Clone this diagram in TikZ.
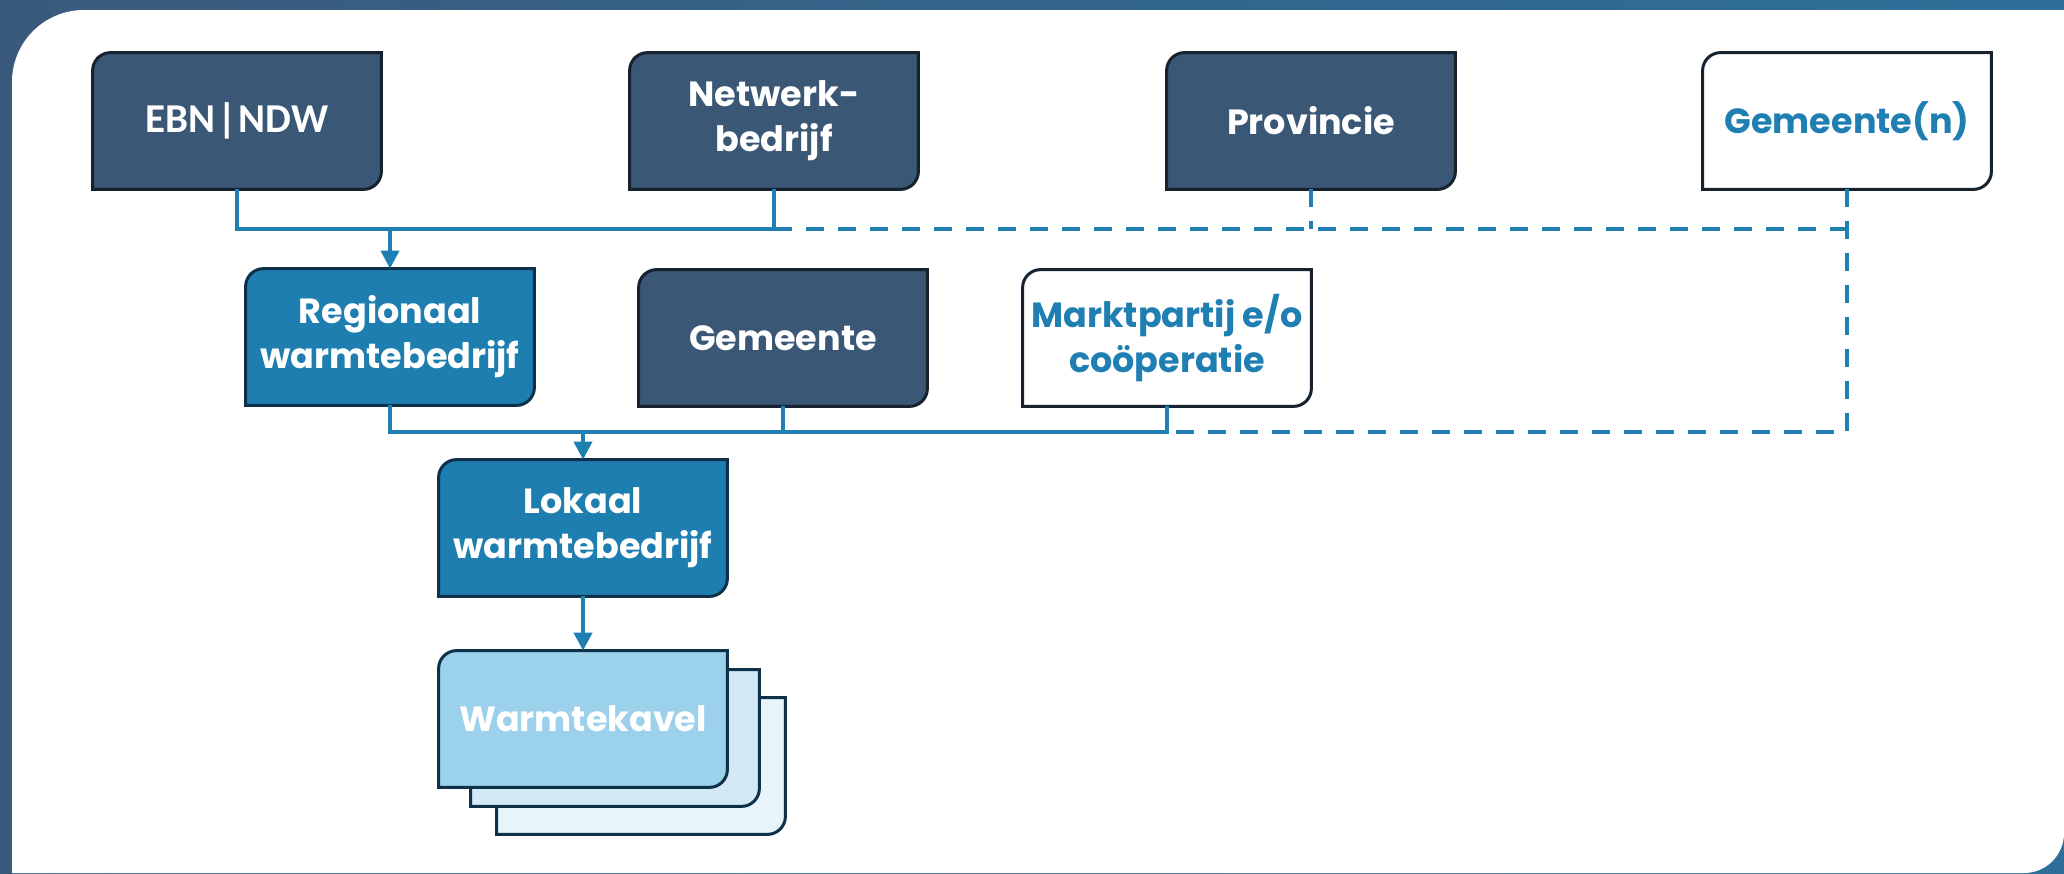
\documentclass[tikz,border=0pt]{standalone}
\usepackage{fontspec}
\setmainfont{Poppins}
\newfontfamily\carlito{Carlito}[BoldFont={Carlito Bold}]
\usetikzlibrary{arrows.meta}

\definecolor{achtergrondL}{HTML}{3A5A7C}
\definecolor{achtergrondR}{HTML}{2D6F99}
\definecolor{donker}{HTML}{3A5775}
\definecolor{midden}{HTML}{1F7EB0}
\definecolor{licht}{HTML}{9BD1EB}
\definecolor{lichter}{HTML}{D3E9F6}
\definecolor{lichtst}{HTML}{E7F4FB}
\definecolor{rand}{HTML}{17222F}
\definecolor{randblauw}{HTML}{0E3048}
\definecolor{lijnblauw}{HTML}{1F7FB3}

\pgfdeclarelayer{achter}
\pgfdeclarelayer{vlak}
\pgfsetlayers{achter,vlak,main}

% kaart met afgeronde hoek linksboven en rechtsonder
\newcommand{\blok}[4]{%
  \path[fill=#3, draw=#4, line width=1.5pt]
    (#1) -- ([yshift=-9pt]#1 |- #2) arc[start angle=180, end angle=90, radius=9pt]
    -- (#2) -- ([yshift=9pt]#2 |- #1) arc[start angle=0, end angle=-90, radius=9pt]
    -- cycle;}

\begin{document}
\begin{tikzpicture}[x=0.5pt, y=-0.5pt]
  \tikzstyle{kaart}=[minimum width=144pt, minimum height=68pt, inner sep=0pt,
    align=center, text=white, font=\fontsize{17.5}{22.5}\selectfont\bfseries]
  \tikzstyle{lijn}=[draw=lijnblauw, line width=2pt]
  \tikzstyle{stippel}=[dash pattern=on 9pt off 7pt]
  \tikzstyle{pijl}=[-{Triangle[width=9pt,length=9pt]}]

  \useasboundingbox (0,0) rectangle (2064,873);

  \begin{pgfonlayer}{achter}
    \shade[left color=achtergrondL, right color=achtergrondR]
      (0,0) rectangle (2064,873);
    \fill[white] (12,873) -- (12,82) arc[start angle=180, end angle=90, radius=36pt]
      -- (2064,10) -- (2064,833) arc[start angle=0, end angle=-90, radius=20pt] -- cycle;
  \end{pgfonlayer}

  \node[kaart] (ebn) at (237,121) {\carlito\bfseries\fontsize{20.5}{24}\selectfont EBN\kern1pt|\kern1pt NDW};
  \node[kaart] (netwerk) at (774,121) {Netwerk-\\bedrijf};
  \node[kaart] (provincie) at (1311,121) {Provincie};
  \node[kaart, text=lijnblauw] (gemeenten) at (1847,121) {Gemeente(n)};

  \node[kaart] (regionaal) at (390,337) {Regionaal\\warmtebedrijf};
  \node[kaart] (gemeente) at (783,338) {Gemeente};
  \node[kaart, text=lijnblauw] (markt) at (1167,338) {Marktpartij e/o\\coöperatie};

  \node[kaart] (lokaal) at (583,528) {Lokaal\\warmtebedrijf};
  \node[kaart] (kavel) at (583,719) {Warmtekavel};

  \coordinate (k3sw) at ([shift={(58,47)}]kavel.south west);
  \coordinate (k3ne) at ([shift={(58,47)}]kavel.north east);
  \coordinate (k2sw) at ([shift={(32,19)}]kavel.south west);
  \coordinate (k2ne) at ([shift={(32,19)}]kavel.north east);

  \begin{pgfonlayer}{vlak}
    \blok{k3sw}{k3ne}{lichtst}{randblauw}
    \blok{k2sw}{k2ne}{lichter}{randblauw}
    \foreach \knoop/\vul/\kader in {ebn/donker/rand, netwerk/donker/rand,
        provincie/donker/rand, gemeenten/white/rand, regionaal/midden/randblauw,
        gemeente/donker/rand, markt/white/rand, lokaal/midden/randblauw,
        kavel/licht/randblauw}
      \blok{\knoop.south west}{\knoop.north east}{\vul}{\kader};
  \end{pgfonlayer}

  \coordinate (boven) at (0,229);
  \coordinate (onder) at (0,432);

  \path[lijn] (ebn.south) |- (netwerk.south |- boven) -- (netwerk.south);
  \path[lijn, pijl] (regionaal.north |- boven) -- (regionaal.north);
  \path[lijn, stippel] (netwerk.south |- boven) -- (gemeenten.south |- boven);
  \path[lijn, stippel] (provincie.south) -- (provincie.south |- boven);
  \path[lijn, stippel] (gemeenten.south) |- (markt.south |- onder);

  \path[lijn] (regionaal.south) |- (markt.south |- onder) -- (markt.south);
  \path[lijn] (gemeente.south) -- (gemeente.south |- onder);
  \path[lijn, pijl] (lokaal.north |- onder) -- (lokaal.north);
  \path[lijn, pijl] (lokaal.south) -- (kavel.north);
\end{tikzpicture}
\end{document}
